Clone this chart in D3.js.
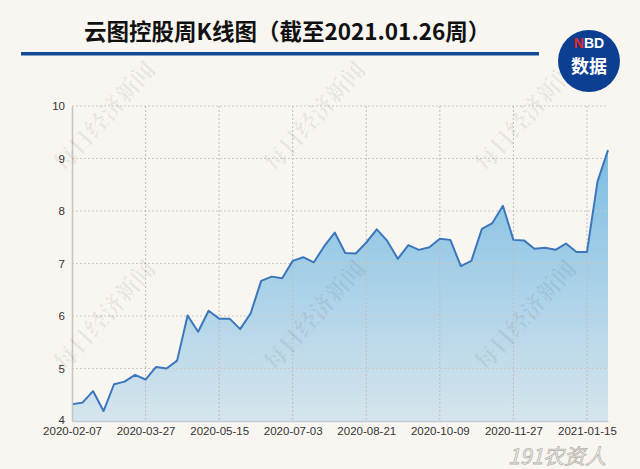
<!DOCTYPE html>
<html><head><meta charset="utf-8">
<script src="https://cdn.jsdelivr.net/npm/d3@7/dist/d3.min.js"></script>
<style>
html,body{margin:0;padding:0;background:#f9f6f2;}
svg{display:block;}
</style></head>
<body>
<script>
const title = "云图控股周K线图（截至2021.01.26周）";
const dates = ["2020-02-07","2020-02-14","2020-02-21","2020-02-28","2020-03-06","2020-03-13","2020-03-20","2020-03-27",
"2020-04-03","2020-04-10","2020-04-17","2020-04-24","2020-05-01","2020-05-08","2020-05-15","2020-05-22","2020-05-29",
"2020-06-05","2020-06-12","2020-06-19","2020-06-26","2020-07-03","2020-07-10","2020-07-17","2020-07-24","2020-07-31",
"2020-08-07","2020-08-14","2020-08-21","2020-08-28","2020-09-04","2020-09-11","2020-09-18","2020-09-25","2020-10-02",
"2020-10-09","2020-10-16","2020-10-23","2020-10-30","2020-11-06","2020-11-13","2020-11-20","2020-11-27","2020-12-04",
"2020-12-11","2020-12-18","2020-12-25","2021-01-01","2021-01-08","2021-01-15","2021-01-22","2021-01-26"];
const prices = [4.32,4.35,4.57,4.19,4.70,4.75,4.88,4.79,5.03,5.00,5.15,6.01,5.70,6.10,5.95,5.95,5.75,6.05,6.67,6.75,
6.72,7.05,7.12,7.02,7.33,7.59,7.20,7.19,7.40,7.65,7.43,7.09,7.35,7.26,7.31,7.47,7.45,6.95,7.05,7.66,7.77,8.10,
7.45,7.44,7.28,7.30,7.26,7.38,7.22,7.22,8.56,9.16];
const xTickLabels = ["2020-02-07","2020-03-27","2020-05-15","2020-07-03","2020-08-21","2020-10-09","2020-11-27","2021-01-15"];
const yTicks = [4,5,6,7,8,9,10];
const yDomain = [4,10];
const watermark = "每日经济新闻";

const W = 640, H = 469;
const svg = d3.select("body").append("svg").attr("width", W).attr("height", H);
svg.append("rect").attr("width", W).attr("height", H).attr("fill", "#f9f6f2");

const x = d3.scalePoint().domain(dates).range([72, 608]);
const y = d3.scaleLinear().domain(yDomain).range([421, 106]);

// gradient
const defs = svg.append("defs");
const g = defs.append("linearGradient").attr("id","areaGrad")
  .attr("gradientUnits","userSpaceOnUse").attr("x1",0).attr("x2",0)
  .attr("y1", y(d3.max(prices))).attr("y2", y(4));
g.append("stop").attr("offset","0%").attr("stop-color","#7dbde3");
g.append("stop").attr("offset","100%").attr("stop-color","#d6e5ed");

// area
const data = dates.map((d,i)=>({d, v: prices[i]}));
svg.append("path").datum(data)
  .attr("d", d3.area().x(p=>x(p.d)).y0(y(4)).y1(p=>y(p.v)))
  .attr("fill","url(#areaGrad)");

// grid
svg.append("g").selectAll("line").data(yTicks.filter(d=>d>4)).join("line")
  .attr("x1",72).attr("x2",608).attr("y1",d=>y(d)).attr("y2",d=>y(d))
  .attr("stroke","#c9c9c9").attr("stroke-width",1).attr("stroke-dasharray","2,2");
svg.append("g").selectAll("line").data(xTickLabels.slice(1)).join("line")
  .attr("x1",d=>x(d)).attr("x2",d=>x(d)).attr("y1",y(10)).attr("y2",y(4))
  .attr("stroke","#bdbdbd").attr("stroke-width",1).attr("stroke-dasharray","2,2");

// line
svg.append("path").datum(data)
  .attr("d", d3.line().x(p=>x(p.d)).y(p=>y(p.v)))
  .attr("fill","none").attr("stroke","#3b77bc").attr("stroke-width",2).attr("stroke-linejoin","round");

// axes
const yAxis = svg.append("g").attr("transform","translate(72,0)")
  .call(d3.axisLeft(y).tickValues(yTicks).tickSize(0).tickPadding(7).tickFormat(d3.format("d")));
yAxis.select(".domain").attr("stroke","#c4c4c4").attr("stroke-width",1.5);
yAxis.selectAll("text").attr("font-family","Liberation Sans, Arial, sans-serif").attr("font-size","11.5px").attr("fill","#333");
yAxis.selectAll(".tick").filter(d=>d===4).select("text").attr("dy","0.2em");

const xAxis = svg.append("g").attr("transform","translate(0,421)")
  .call(d3.axisBottom(x).tickValues(xTickLabels).tickSize(0).tickPadding(6));
xAxis.select(".domain").attr("stroke","#c0cdd6").attr("stroke-width",1.5);
xAxis.selectAll("text").attr("font-family","Liberation Sans, Arial, sans-serif").attr("font-size","11.5px").attr("fill","#333");

// watermarks
const wmPos = [[106,118],[316,118],[527,118],[106,317],[316,317],[527,317]];
svg.append("g").selectAll("text").data(wmPos).join("text")
  .attr("transform",d=>`translate(${d[0]},${d[1]}) rotate(-48)`)
  .attr("text-anchor","middle").attr("dominant-baseline","middle")
  .attr("font-family","Noto Serif CJK SC, Noto Sans CJK SC, sans-serif").attr("font-weight","bold")
  .attr("font-size","23px").attr("fill","#000").attr("fill-opacity",0.07)
  .text(watermark);

// title
svg.append("text").attr("x",84).attr("y",40)
  .attr("font-family","Noto Sans CJK SC, sans-serif").attr("font-weight","bold")
  .attr("font-size","22.5px").attr("fill","#111").text(title);
svg.append("rect").attr("x",21).attr("y",52).attr("width",518).attr("height",3.5).attr("fill","#124a96");

// logo
const logo = svg.append("g");
logo.append("circle").attr("cx",589).attr("cy",61).attr("r",31).attr("fill","#0c3f92");
const nbd = logo.append("text").attr("x",589).attr("y",48).attr("text-anchor","middle")
  .attr("font-family","Liberation Sans, Arial, sans-serif").attr("font-weight","bold").attr("font-size","14px");
nbd.append("tspan").attr("fill","#e8262d").text("N");
nbd.append("tspan").attr("fill","#fff").text("BD");
logo.append("text").attr("x",589).attr("y",73).attr("text-anchor","middle")
  .attr("font-family","Noto Sans CJK SC, sans-serif").attr("font-weight","bold").attr("font-size","18px")
  .attr("fill","#fff").text("数据");

// bottom-right watermark
svg.append("text").attr("x",508).attr("y",464)
  .attr("font-family","Noto Sans CJK SC, sans-serif").attr("font-style","italic").attr("font-size","21px")
  .attr("fill","#f4f1ec").attr("stroke","#b9b6b1").attr("stroke-width",0.8).text("191农资人");
</script>
</body></html>
